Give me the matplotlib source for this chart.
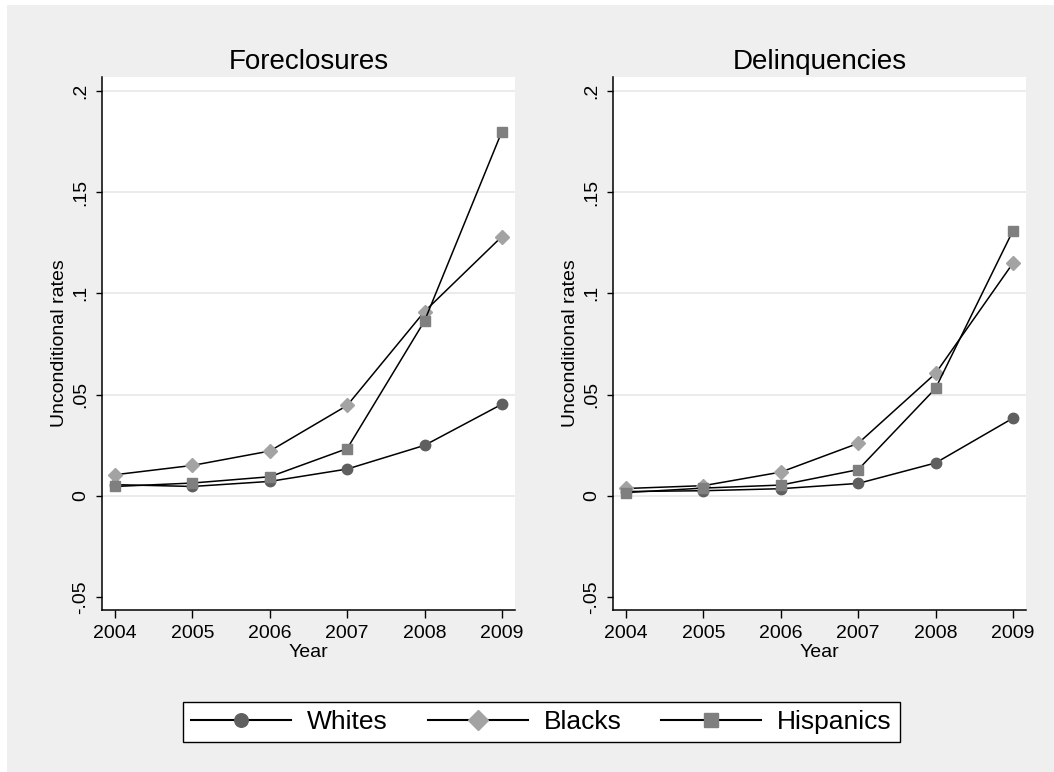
import matplotlib
matplotlib.use('Agg')
import matplotlib.pyplot as plt
from matplotlib.patches import Rectangle
from matplotlib.lines import Line2D

plt.rcParams['font.family'] = ['Liberation Sans', 'DejaVu Sans']

#%% data
years = [2004, 2005, 2006, 2007, 2008, 2009]
panels = ['Foreclosures', 'Delinquencies']

fc_whites = [0.0055, 0.0046, 0.0071, 0.0132, 0.0249, 0.0452]
fc_blacks = [0.0104, 0.0150, 0.0221, 0.0446, 0.0910, 0.1280]
fc_hisp   = [0.0046, 0.0063, 0.0094, 0.0233, 0.0863, 0.1798]

dq_whites = [0.0021, 0.0025, 0.0035, 0.0061, 0.0162, 0.0383]
dq_blacks = [0.0036, 0.0050, 0.0117, 0.0259, 0.0604, 0.1148]
dq_hisp   = [0.0016, 0.0038, 0.0053, 0.0129, 0.0530, 0.1308]

yticks = [-0.05, 0, 0.05, 0.1, 0.15, 0.2]
ytick_labels = ['-.05', '0', '.05', '.1', '.15', '.2']
groups = ['Whites', 'Blacks', 'Hispanics']

#%% styles
bg = '#EFEFEF'
styles = {'Whites': dict(marker='o', ms=7.5, mfc='#5F5F5F', mec='#5F5F5F'),
          'Blacks': dict(marker='D', ms=7.5, mfc='#A3A3A3', mec='#A3A3A3'),
          'Hispanics': dict(marker='s', ms=7.5, mfc='#7F7F7F', mec='#7F7F7F')}

fig = plt.figure(figsize=(10.54, 7.72), dpi=100)
fig.patch.set_facecolor('white')
fig.patches.append(Rectangle((7/1054, 0), 1, 1 - 5/772, transform=fig.transFigure,
                             facecolor=bg, edgecolor='none', zorder=-10))

W, H = 1054, 772
ax1 = fig.add_axes([102/W, 1 - 610/H, 413/W, 533/H])
ax2 = fig.add_axes([613/W, 1 - 610/H, 413/W, 533/H])

data = [(fc_whites, fc_blacks, fc_hisp), (dq_whites, dq_blacks, dq_hisp)]

for ax, title, series in zip([ax1, ax2], panels, data):
    ax.set_facecolor('white')
    for v in yticks:
        if v >= 0:
            ax.axhline(v, color='#E8E8E8', linewidth=1.2, zorder=0)
    for name, vals in zip(groups, series):
        ax.plot(years, vals, color='black', linewidth=1.1, zorder=3, **styles[name])
    ax.set_xlim(2003.83, 2009.17)
    ax.set_ylim(-0.0564, 0.2068)
    ax.set_xticks(years)
    ax.set_xticklabels([str(y) for y in years], fontsize=14)
    ax.set_yticks(yticks)
    ax.set_yticklabels(ytick_labels, fontsize=14, rotation=90, va='center')
    ax.tick_params(axis='x', length=6, width=1, pad=5)
    ax.tick_params(axis='y', length=4, width=1, pad=5)
    for s in ['top', 'right']:
        ax.spines[s].set_visible(False)
    for s in ['left', 'bottom']:
        ax.spines[s].set_linewidth(1.1)
    ax.set_title(title, fontsize=20, pad=6)
    ax.set_xlabel('Year', fontsize=14, labelpad=1)
    ax.set_ylabel('Unconditional rates', fontsize=14, labelpad=3)

handles = [Line2D([], [], color='black', linewidth=1.5, **styles[g]) for g in groups]
leg = fig.legend(handles, groups, loc='center', bbox_to_anchor=(541.5/W, 1 - 722/H),
                 ncol=3, fontsize=19, handlelength=3.8, handletextpad=0.6,
                 columnspacing=1.5, markerscale=1.3, frameon=True, fancybox=False,
                 borderpad=0.3, borderaxespad=0)
leg.get_frame().set_edgecolor('black')
leg.get_frame().set_linewidth(1.0)
leg.get_frame().set_facecolor('white')
leg.get_frame().set_alpha(1)

fig.savefig('out.png', dpi=100, facecolor=fig.get_facecolor())
